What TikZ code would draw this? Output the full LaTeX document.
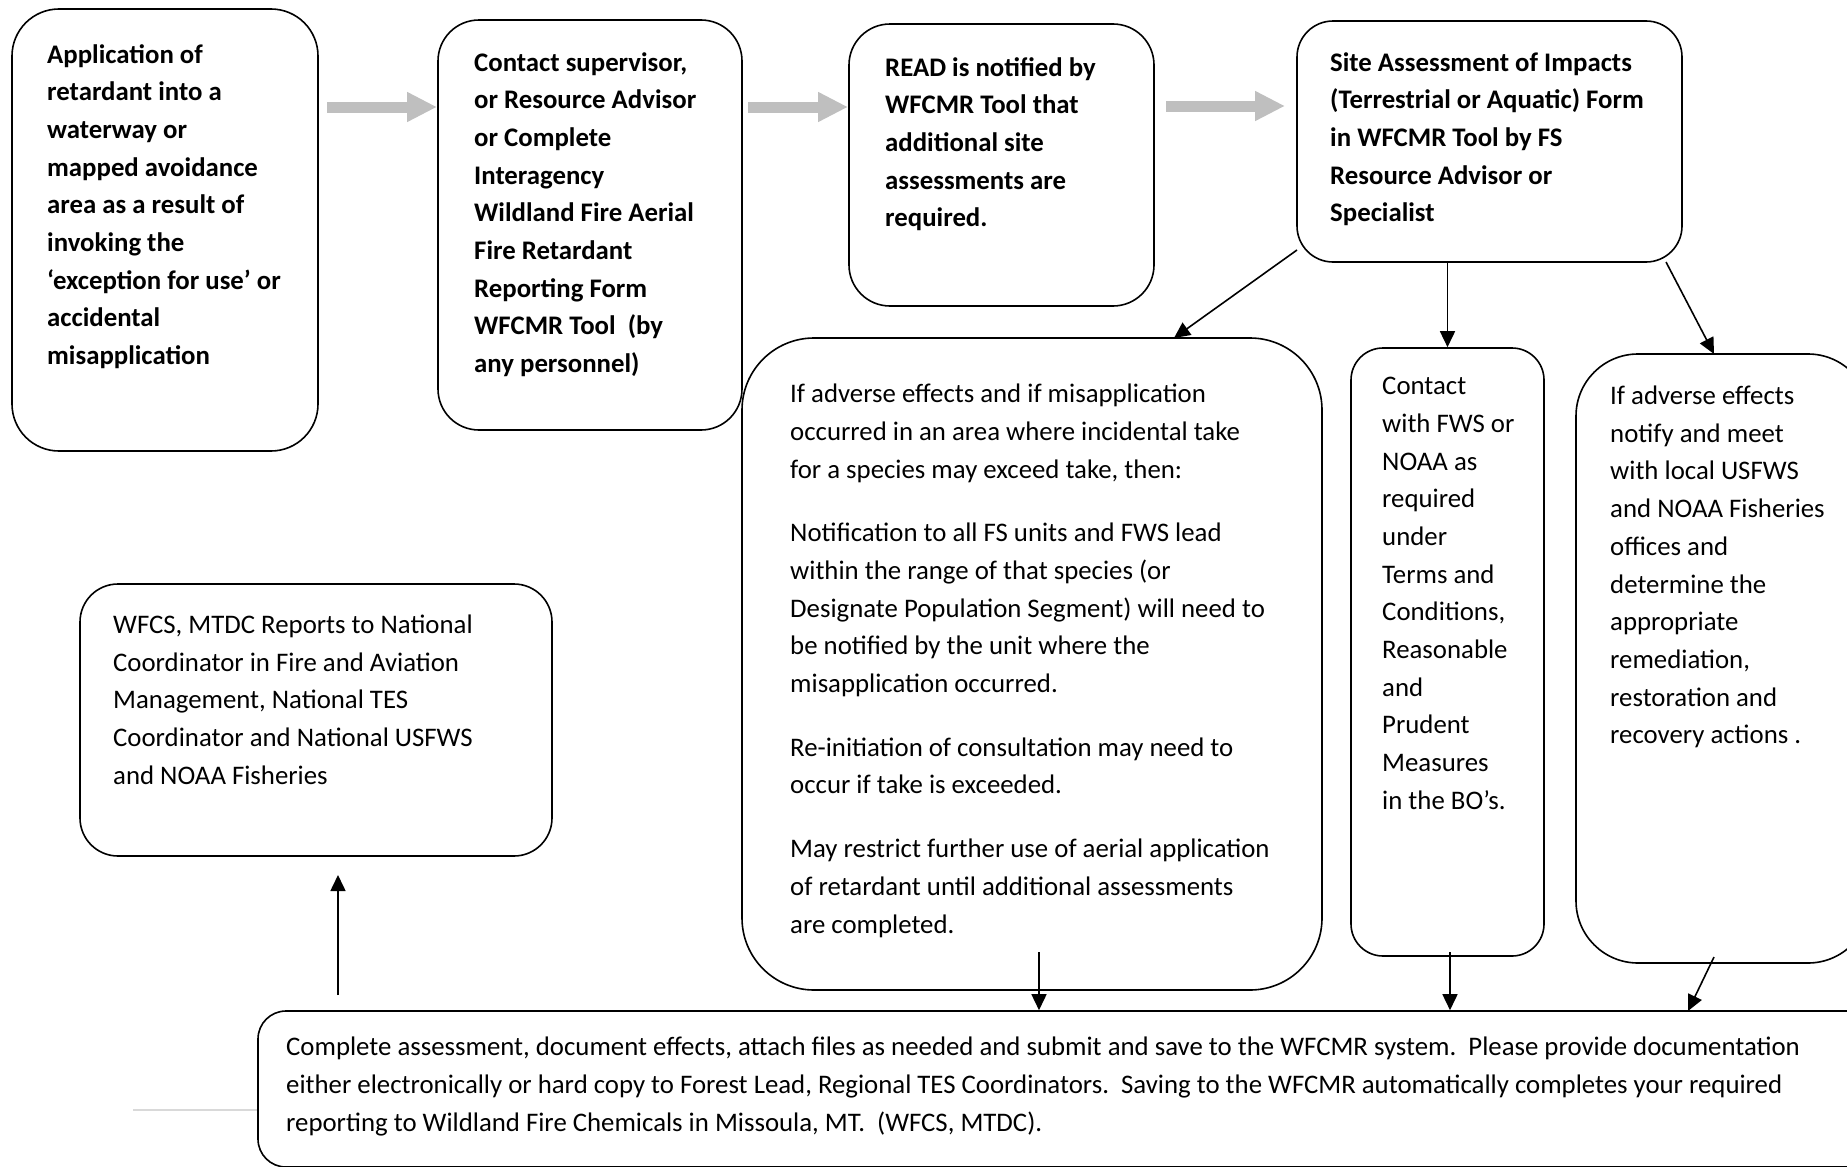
\documentclass[tikz,border=0pt]{standalone}
\usepackage{fontspec}
\setmainfont{Carlito}
\usetikzlibrary{arrows.meta}
\begin{document}
\begin{tikzpicture}[x=1pt,y=-1pt,
  box/.style={draw=black, line width=1.6pt, rectangle, inner sep=0pt},
  txt/.style={inner sep=0pt, anchor=north west, align=left, font=\fontsize{26.8}{37.7}\selectfont},
  btxt/.style={inner sep=0pt, anchor=north west, align=left, font=\fontsize{26.8}{37.7}\selectfont\bfseries},
  conn/.style={line width=1.6pt, -{Triangle[length=16pt,width=15pt]}},
  fat/.style={line width=11pt, draw=black!25, -{Triangle[length=30pt,width=28pt]}}
]
\useasboundingbox (0,0) rectangle (1847,1167);
\clip (0,0) rectangle (1847,1167);

% boxes
\node[box, rounded corners=47pt, minimum width=306pt, minimum height=442pt] (A) at (165,230) {};
\node[box, rounded corners=41pt, minimum width=304pt, minimum height=410pt] (B) at (590,225) {};
\node[box, rounded corners=41pt, minimum width=305pt, minimum height=282pt] (C) at (1001.5,165) {};
\node[box, rounded corners=36pt, minimum width=385pt, minimum height=241pt] (D) at (1489.5,141.5) {};
\node[box, rounded corners=72pt, minimum width=580pt, minimum height=652pt] (E) at (1032,664) {};
\node[box, rounded corners=32pt, minimum width=193pt, minimum height=608pt] (F) at (1447.5,652) {};
\node[box, rounded corners=62pt, minimum width=294pt, minimum height=609pt] (G) at (1723,658.5) {};
\node[box, rounded corners=38pt, minimum width=472pt, minimum height=272pt] (H) at (316,720) {};
\node[box, rounded corners=28pt, minimum width=1622pt, minimum height=156pt] (I) at (1069,1089) {};

% texts
\node[btxt] (At) at (47,36.5) {\strut Application of\\retardant into a\\waterway or\\mapped avoidance\\area as a result of\\invoking the\\‘exception for use’ or\\accidental\\misapplication};
\node[btxt] (Bt) at (474,44.5) {\strut Contact supervisor,\\or Resource Advisor\\or Complete\\Interagency\\Wildland Fire Aerial\\Fire Retardant\\Reporting Form\\WFCMR Tool\ \ (by\\any personnel)};
\node[btxt] (Ct) at (885,49.5) {\strut READ is notified by\\WFCMR Tool that\\additional site\\assessments are\\required.};
\node[btxt] (Dt) at (1330,44.5) {\strut Site Assessment of Impacts\\(Terrestrial or Aquatic) Form\\in WFCMR Tool by FS\\Resource Advisor or\\Specialist};
\node[txt] (Et) at (790,376) {\strut If adverse effects and if misapplication\\occurred in an area where incidental take\\for a species may exceed take, then:\\[26pt]Notification to all FS units and FWS lead\\within the range of that species (or\\Designate Population Segment) will need to\\be notified by the unit where the\\misapplication occurred.\\[26pt]Re-initiation of consultation may need to\\occur if take is exceeded.\\[26pt]May restrict further use of aerial application\\of retardant until additional assessments\\are completed.};
\node[txt] (Ft) at (1382,368) {\strut Contact\\with FWS or\\NOAA as\\required\\under\\Terms and\\Conditions,\\Reasonable\\and\\Prudent\\Measures\\in the BO’s.};
\node[txt] (Gt) at (1610,378) {\strut If adverse effects\\notify and meet\\with local USFWS\\and NOAA Fisheries\\offices and\\determine the\\appropriate\\remediation,\\restoration and\\recovery actions .};
\node[txt] (Ht) at (113,607) {\strut WFCS, MTDC Reports to National\\Coordinator in Fire and Aviation\\Management, National TES\\Coordinator and National USFWS\\and NOAA Fisheries};
\node[txt] (It) at (286,1029) {\strut Complete assessment, document effects, attach files as needed and submit and save to the WFCMR system.\ \ Please provide documentation\\either electronically or hard copy to Forest Lead, Regional TES Coordinators.\ \ Saving to the WFCMR automatically completes your required\\reporting to Wildland Fire Chemicals in Missoula, MT.\ \ (WFCS, MTDC).};

% gray block arrows
\coordinate (g1s) at (327,107); \coordinate (g1e) at (437,107);
\coordinate (g2s) at (748,107); \coordinate (g2e) at (848,107);
\coordinate (g3s) at (1166,106); \coordinate (g3e) at (1285,106);
\draw[fat] (g1s) -- (g1e);
\draw[fat] (g2s) -- (g2e);
\draw[fat] (g3s) -- (g3e);

% black connectors
\coordinate (dEs) at (1297,250); \coordinate (eTop) at (1174,338);
\draw[conn] (dEs) -- (eTop);
\draw[conn] (D.south -| F.north) -- (F.north);
\coordinate (dGs) at (1666,262); \coordinate (gTop) at (1714,354);
\draw[conn] (dGs) -- (gTop);
\coordinate (eBot) at (1039,952);
\draw[conn] (eBot) -- (eBot |- I.north);
\coordinate (fBot) at (1450,952);
\draw[conn] (fBot) -- (fBot |- I.north);
\coordinate (gBot) at (1714,957); \coordinate (iTopG) at (1688,1011);
\draw[conn] (gBot) -- (iTopG);
\coordinate (iUp) at (338,995); \coordinate (hLow) at (338,875);
\draw[conn] (iUp) -- (hLow);

% stray light line at left of bottom box
\coordinate (sl) at (133,1110);
\draw[line width=2pt, draw=black!15] (sl) -- (sl -| I.west);
\end{tikzpicture}
\end{document}
